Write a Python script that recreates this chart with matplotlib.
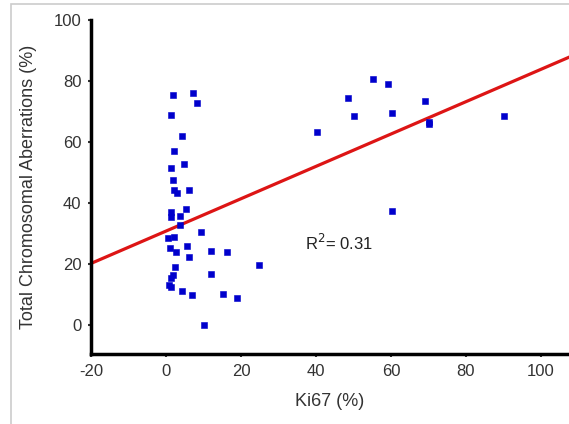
import numpy as np
import matplotlib.pyplot as plt
from matplotlib.patches import Rectangle

# Ki67 (%) vs total chromosomal aberrations (%)
ki67 = [1.8, 7.1, 8.2, 1.2, 4.3, 2.0, 1.2, 4.9, 1.8, 2.1, 2.8, 6.0, 1.2, 5.2,
        1.2, 3.7, 3.7, 9.3, 0.4, 2.0, 1.1, 2.7, 5.5, 6.2, 12.0, 16.2, 24.9,
        2.4, 1.8, 1.2, 0.9, 1.2, 11.9, 4.3, 6.9, 15.2, 19.0, 10.2,
        55.1, 59.2, 48.6, 69.1, 50.2, 60.2, 70.2, 70.2, 90.2, 40.3, 60.2]
aberr = [75.3, 76.0, 72.9, 69.0, 62.1, 57.0, 51.5, 52.7, 47.5, 44.3, 43.2, 44.2, 37.2, 38.1,
         35.3, 35.8, 32.8, 30.5, 28.5, 28.8, 25.4, 24.0, 26.0, 22.4, 24.2, 23.8, 19.7,
         19.1, 16.3, 15.3, 13.1, 12.4, 16.7, 11.3, 9.9, 10.2, 9.0, 0.0,
         80.7, 79.0, 74.5, 73.3, 68.6, 69.6, 66.7, 65.8, 68.4, 63.3, 37.3]

# regression line as drawn in the figure
fit_intercept = 30.8
fit_slope = 0.53
r2_text = 'R$^2$= 0.31'

plt.rcParams['font.family'] = ['Liberation Sans', 'DejaVu Sans']
plt.rcParams['axes.unicode_minus'] = False

fig = plt.figure(figsize=(5.69, 4.24), dpi=100)
ax = fig.add_axes([0.16, 0.165, 0.84, 0.788])

# light grey frame around the picture
fig.patches.append(Rectangle((11 / 569, -0.1), 1.2, 1.1 - 4 / 424, transform=fig.transFigure,
                             fill=False, edgecolor='#cccccc', linewidth=1.2))

xlim = (-20, 107.5)
xs = np.array(xlim)
ax.plot(xs, fit_intercept + fit_slope * xs, color='#dd1515', linewidth=2.3, zorder=2)
ax.scatter(ki67, aberr, marker='s', s=20, color='#0000cc', linewidths=0.4,
           edgecolors='#0000cc', zorder=3)

ax.text(37, 27, r2_text, fontsize=12, color='#222222', ha='left', va='center')

ax.set_xlim(*xlim)
ax.set_ylim(-9.5, 100)
ax.set_xticks(range(-20, 101, 20))
ax.set_yticks(range(0, 101, 20))
ax.tick_params(labelsize=12, length=2, width=1.5, colors='#333333', pad=5)

for side in ['top', 'right']:
    ax.spines[side].set_visible(False)
for side in ['left', 'bottom']:
    ax.spines[side].set_linewidth(2.5)

ax.set_xlabel('Ki67 (%)', fontsize=13, color='#333333', labelpad=10)
ax.set_ylabel('Total Chromosomal Aberrations (%)', fontsize=13, color='#333333', labelpad=12)

fig.savefig('out.png', dpi=100)
